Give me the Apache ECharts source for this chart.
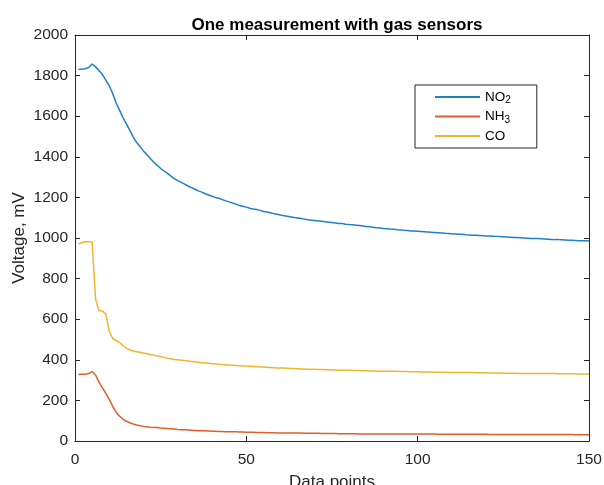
<!DOCTYPE html>
<html>
<head>
<meta charset="utf-8">
<script src="https://cdn.jsdelivr.net/npm/echarts@6/dist/echarts.min.js"></script>
<style>
html,body{margin:0;padding:0;background:#fff;}
#chart{width:604px;height:485px;}
</style>
</head>
<body>
<div id="chart"></div>
<script>
var titleText = 'One measurement with gas sensors';
var xAxisName = 'Data points';
var yAxisName = 'Voltage, mV';
var seriesNames = ['NO2', 'NH3', 'CO'];
var xTicks = [0, 50, 100, 150];
var yTicks = [0, 200, 400, 600, 800, 1000, 1200, 1400, 1600, 1800, 2000];

var no2 = [
1830,1832,1834,1840,1857,1843,1825,1805,1778,1750,
1712,1665,1630,1593,1562,1530,1497,1470,1450,1428,
1410,1392,1373,1358,1342,1330,1318,1305,1293,1283,
1274,1265,1256,1248,1240,1232,1226,1218,1212,1206,
1200,1196,1189,1183,1178,1172,1167,1160,1156,1152,
1147,1143,1140,1136,1131,1128,1124,1120,1117,1113,
1110,1107,1104,1101,1099,1096,1093,1090,1088,1086,
1084,1082,1080,1078,1076,1074,1072,1071,1068,1066,
1065,1063,1061,1059,1057,1055,1053,1051,1049,1047,
1046,1044,1043,1041,1040,1038,1037,1035,1034,1033,
1032,1031,1030,1028,1027,1026,1025,1023,1022,1021,
1020,1019,1018,1016,1015,1014,1013,1012,1011,1010,
1010,1009,1008,1007,1006,1005,1004,1003,1002,1001,
1000,999,998,998,997,996,995,994,993,992,
992,991,990,989,989,988,987,986,986,985
];
var nh3 = [
328,329,329,332,342,325,290,262,235,205,
170,142,122,108,97,90,84,79,75,72,
70,68,67,66,64,63,61,60,59,57,
56,55,54,53,52,51,50,50,49,48,
48,47,47,46,46,45,45,44,44,43,
43,43,42,42,42,41,41,41,40,40,
40,40,39,39,39,39,38,38,38,38,
38,37,37,37,37,37,36,36,36,36,
36,36,35,35,35,35,35,35,35,35,
35,35,35,35,35,34,34,34,34,34,
34,34,34,34,34,33,33,33,33,33,
33,33,33,33,33,33,33,33,33,33,
32,32,32,32,32,32,32,32,32,32,
32,32,32,32,32,32,32,32,32,32,
32,32,32,32,32,31,31,31,31,31
];
var co = [
970,978,982,981,980,700,642,640,625,540,
505,495,485,470,458,448,443,440,437,433,
430,426,423,419,416,412,408,405,402,400,
398,396,394,392,390,388,386,385,383,381,
380,378,377,376,374,373,372,371,370,369,
368,367,366,365,364,363,362,361,360,360,
359,358,357,357,356,355,355,354,353,353,
352,352,351,351,350,350,349,349,348,348,
347,347,347,346,346,345,345,345,344,344,
344,343,343,343,342,342,342,341,341,341,
340,340,340,340,339,339,339,339,338,338,
338,338,337,337,337,337,336,336,336,336,
335,335,335,335,334,334,334,334,334,333,
333,333,333,333,332,332,332,332,332,332,
331,331,331,331,331,331,330,330,330,330
];

var colors = ['#1f7fcc', '#de5f2a', '#efb62c'];
var axisColor = '#262626';
var FONT = '"Liberation Sans", Arial, Helvetica, sans-serif';

function toPairs(arr) {
  return arr.map(function (v, i) { return [i + 1, v]; });
}
var allSeries = [no2, nh3, co];

var chart = echarts.init(document.getElementById('chart'), null, {renderer: 'canvas'});

function plain(v) { return String(v); }

function baseAxis(extra) {
  var o = {
    type: 'value',
    axisLine: {show: true, onZero: false, lineStyle: {color: axisColor, width: 1}},
    axisTick: {show: true, inside: true, length: 5, lineStyle: {color: axisColor, width: 1}},
    splitLine: {show: false},
    axisLabel: {color: axisColor, fontFamily: FONT, fontSize: 15.5, formatter: plain}
  };
  for (var k in extra) o[k] = extra[k];
  return o;
}

var option = {
  backgroundColor: '#ffffff',
  animation: false,
  color: colors,
  title: {
    text: titleText,
    left: 332,
    textAlign: 'center',
    top: 12,
    textStyle: {fontFamily: FONT, fontSize: 17, fontWeight: 'bold', color: '#000'}
  },
  grid: {left: 75, right: 15, top: 35, bottom: 44, containLabel: false, outerBoundsMode: 'none'},
  legend: {
    orient: 'vertical',
    left: 415,
    top: 85,
    padding: [5, 26, 5, 19],
    itemGap: 4,
    itemWidth: 45,
    itemHeight: 14,
    borderColor: axisColor,
    borderWidth: 1,
    backgroundColor: '#fff',
    borderRadius: 0,
    itemStyle: {opacity: 0},
    data: seriesNames,
    formatter: function (name) {
      if (name === 'NO2') return 'NO{sub|2}';
      if (name === 'NH3') return 'NH{sub|3}';
      return name;
    },
    textStyle: {
      fontFamily: FONT, fontSize: 13.5, color: '#000',
      rich: {sub: {fontFamily: FONT, fontSize: 10, color: '#000', padding: [7, 0, 0, 0]}}
    }
  },
  xAxis: [
    baseAxis({
      min: xTicks[0], max: xTicks[xTicks.length - 1], interval: 50,
      position: 'bottom',
      name: xAxisName, nameLocation: 'middle', nameGap: 33,
      nameTextStyle: {fontFamily: FONT, fontSize: 17, color: axisColor},
      axisLabel: {color: axisColor, fontFamily: FONT, fontSize: 15.5, margin: 11, formatter: plain}
    }),
    baseAxis({
      min: xTicks[0], max: xTicks[xTicks.length - 1], interval: 50,
      position: 'top',
      axisLabel: {show: false}
    })
  ],
  yAxis: [
    baseAxis({
      min: yTicks[0], max: yTicks[yTicks.length - 1], interval: 200,
      position: 'left',
      name: yAxisName, nameLocation: 'middle', nameGap: 47, nameMoveOverlap: false,
      nameTextStyle: {fontFamily: FONT, fontSize: 17, color: axisColor},
      axisLabel: {color: axisColor, fontFamily: FONT, fontSize: 15.5, margin: 7, formatter: plain}
    }),
    baseAxis({
      min: yTicks[0], max: yTicks[yTicks.length - 1], interval: 200,
      position: 'right',
      axisLabel: {show: false}
    })
  ],
  series: seriesNames.map(function (n, i) {
    return {
      name: n,
      type: 'line',
      xAxisIndex: 0,
      yAxisIndex: 0,
      data: toPairs(allSeries[i]),
      showSymbol: false,
      symbol: 'none',
      smooth: false,
      lineStyle: {width: 1.5, color: colors[i]},
      itemStyle: {color: colors[i]}
    };
  })
};
chart.setOption(option);
</script>
</body>
</html>
